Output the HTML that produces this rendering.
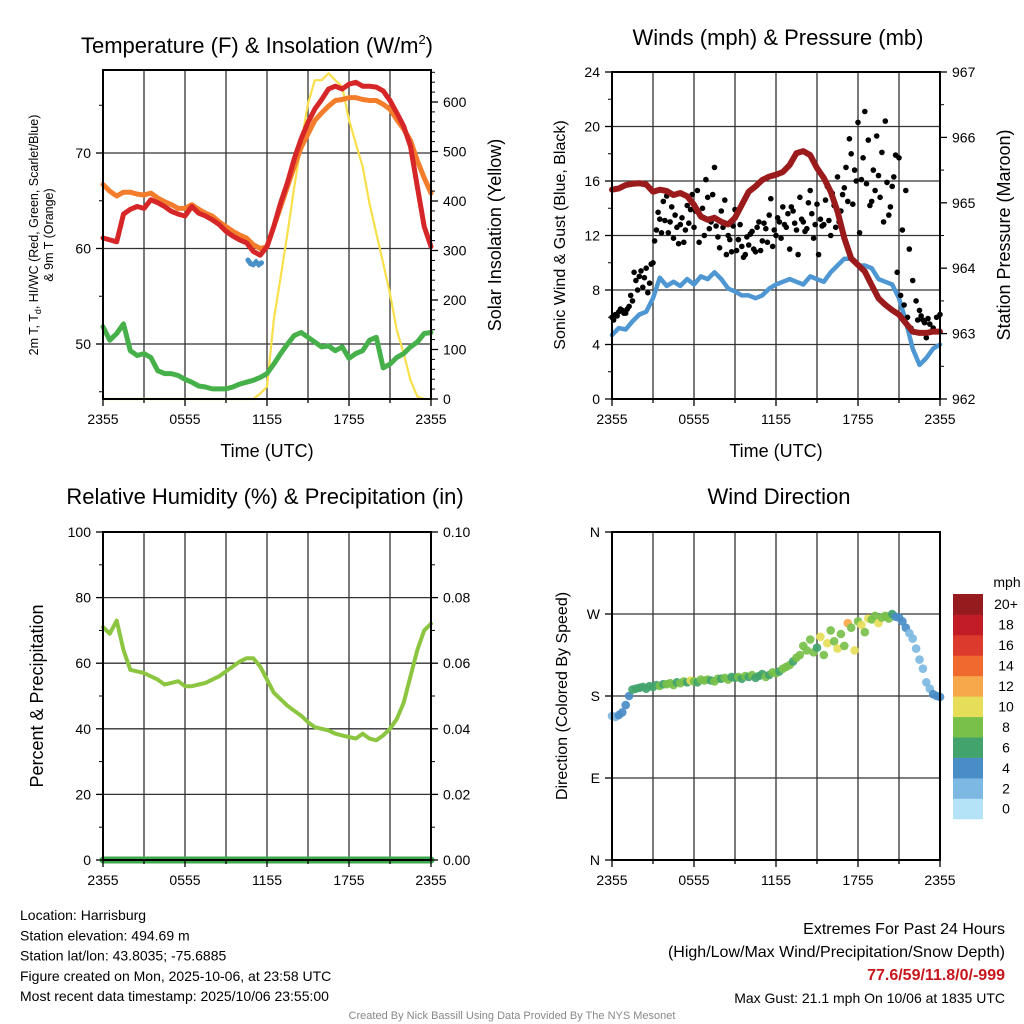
<!DOCTYPE html>
<html><head><meta charset="utf-8"><style>
html,body{margin:0;padding:0;background:#fff;}
svg{display:block;font-family:"Liberation Sans",sans-serif;}
</style></head><body>
<svg id="fig" width="1024" height="1024" viewBox="0 0 1024 1024" xmlns="http://www.w3.org/2000/svg">
<g id="static"></g>
</svg>
<script>
// ---------- data (half-hourly, hour 0 = 2355 UTC) ----------
const xTickLabels = ["2355","0555","1155","1755","2355"];
const temp2m = [61.1,60.9,60.7,63.6,64.1,64.4,64.2,65.1,64.8,64.4,63.9,63.6,63.4,64.4,63.7,63.4,63.0,62.5,61.8,61.3,60.9,60.6,59.7,59.3,60.2,62.3,64.8,66.9,69.4,71.5,73.2,74.6,75.6,76.7,77.0,76.7,77.2,77.4,77.0,77.0,76.9,76.5,75.5,74.2,72.8,70.7,66.5,62.3,60.2];
const temp9m = [66.7,66.0,65.5,65.9,65.9,65.7,65.6,65.8,65.3,64.9,64.6,64.2,64.2,64.6,64.1,63.7,63.4,62.8,62.3,61.8,61.4,61.1,60.4,60.0,60.2,62.3,64.4,66.5,68.6,70.6,72.0,73.4,74.2,74.9,75.5,75.6,75.8,75.8,75.6,75.5,75.5,75.1,74.6,73.5,72.5,71.3,69.2,67.4,65.8];
const dewpoint = [51.8,50.4,51.1,52.1,49.3,48.8,49.0,48.6,47.2,46.9,46.9,46.7,46.3,46.0,45.6,45.5,45.3,45.3,45.3,45.5,45.8,46.0,46.2,46.5,46.9,47.9,49.0,50.0,50.9,51.2,50.7,50.2,49.7,49.8,49.3,49.7,48.5,49.0,49.3,50.4,50.7,47.5,47.9,48.6,49.0,49.7,50.2,51.1,51.2];
const windChillHours = [10.6,10.8,11.0,11.2,11.4,11.6];
const windChillVals = [58.8,58.4,58.3,58.6,58.3,58.5];
const insolation = [0,0,0,0,0,0,0,0,0,0,0,0,0,0,0,0,0,0,0,0,0,0,0,11,25,160,247,335,429,516,597,644,644,658,644,631,564,516,469,395,335,274,213,139,92,38,5,0,0];
const sonicWind = [4.7,5.2,5.1,5.7,6.2,6.4,7.4,8.9,8.3,8.6,8.3,8.8,8.4,9.0,8.8,9.3,8.8,8.1,7.9,7.6,7.6,7.4,7.6,8.1,8.4,8.6,8.8,8.6,8.4,9.0,8.8,8.6,9.3,9.8,10.3,10.3,9.8,9.8,9.6,8.8,8.6,8.4,7.4,5.7,3.7,2.5,3.0,3.7,4.0];
const pressure = [965.20,965.22,965.27,965.29,965.30,965.28,965.17,965.20,965.18,965.12,965.15,965.10,964.97,964.79,964.74,964.77,964.71,964.67,964.77,964.97,965.17,965.25,965.35,965.40,965.43,965.47,965.58,965.76,965.79,965.73,965.53,965.38,965.17,964.87,964.46,964.15,964.05,963.95,963.74,963.54,963.44,963.36,963.29,963.16,963.03,963.01,963.01,963.03,963.03];
const relHumidity = [71,69,73,64,58,57.5,57,56,55,53.5,54,54.5,53,53,53.5,54,55,56,57.5,59,60.5,61.5,61.5,59,55,51,49,47,45.5,44,42,40.5,40,39.5,38.5,38,37.5,37,38.5,37,36.5,38,40,43,48,56,64,70,72];
const precip = [0,0,0,0,0,0,0,0,0,0,0,0,0,0,0,0,0,0,0,0,0,0,0,0,0,0,0,0,0,0,0,0,0,0,0,0,0,0,0,0,0,0,0,0,0,0,0,0,0];
// quarter-hourly
const gusts = [6.0,6.2,6.4,6.5, 6.3,6.8,7.2,8.7, 9.0,8.2,9.6,8.5, 10.0,12.4,13.2,14.5, 14.9,13.0,11.8,12.6, 12.8,11.5,14.2,13.9, 12.6,15.3,13.4,12.0, 14.8,13.0,17.0,11.9, 13.8,14.6,12.0,10.8, 13.9,11.7,11.2,10.6, 11.3,12.3,10.8,13.0, 11.6,12.5,13.5,11.2, 12.0,13.0,14.1,12.6, 11.0,13.8,12.4,14.8, 13.0,12.5,15.3,11.8, 14.3,13.2,12.8,15.6, 12.0,14.2,16.3,13.8, 15.5,14.5,18.0,16.8, 20.3,16.1,21.1,19.0, 14.5,15.3,16.4,18.1, 20.4,13.5,15.6,17.9, 17.7,12.4,15.3,11.0, 8.7,7.2,6.5,5.8, 4.5,5.5,5.2,6.0, 6.2];
const gustsB = [5.8,6.1,6.6,6.3, 6.6,7.6,9.3,8.0, 9.4,8.9,7.8,9.9, 11.6,13.7,12.2,13.1, 12.2,14.1,13.5,11.4, 13.3,12.4,12.9,15.0, 13.8,11.5,14.0,16.1, 12.5,15.0,12.7,11.1, 12.6,10.6,11.7,12.7, 10.9,12.8,10.4,11.9, 12.1,11.0,12.6,10.9, 12.9,11.5,14.7,12.4, 13.3,11.8,12.8,13.6, 14.1,12.9,10.6,13.2, 12.3,14.4,13.6,12.8, 10.6,12.7,14.6,13.1, 15.1,12.6,13.0,15.0, 17.0,19.1,14.3,16.0, 12.2,17.7,15.8,14.2, 16.8,19.3,14.8,13.0, 15.9,14.1,16.3,9.3, 7.6,6.9,6.0,5.2, 4.9,5.8,6.1,5.6, 5.9];
const windDir = [158,157,159,162, 170,180,187,188, 189,190,188,191, 190,192,191,193, 193,194,192,195, 194,196,195,197, 196,195,198,197, 198,197,196,199, 199,200,198,201, 200,201,199,202, 201,203,200,202, 204,201,203,206, 205,207,210,212, 214,218,222,225, 235,230,242,228, 233,245,225,238, 252,240,232,248, 235,260,255,230, 262,258,250,265, 264,268,260,266, 268,265,270,267, 266,262,255,249, 243,232,220,210, 195,188,182,180, 179];
const windSpd = [3.8,3.9,4.0,4.1, 4.2,5.0,6.2,6.5, 6.4,7.0,6.8,7.2, 7.5,7.8,8.5,7.6, 8.2,9.6,8.0,7.9, 8.0,8.4,7.8,10.2, 8.6,7.9,8.3,8.1, 8.8,7.9,8.0,8.4, 7.8,8.1,8.3,7.5, 7.9,8.2,7.8,8.0, 7.7,8.0,7.6,7.9, 7.8,8.1,7.4,8.3, 8.0,7.9,8.2,9.3, 8.0,7.6,8.4,9.8, 8.3,9.5,8.1,9.7, 7.5,10.3,8.2,10.1, 9.6,8.3,10.4,8.0, 9.8,12.8,8.5,11.8, 8.2,10.5,9.8,10.6, 8.1,8.4,10.2,9.9, 8.0,9.6,7.5,5.0, 4.0,4.3,4.0,3.8, 3.2,2.8,2.4,2.5, 3.5,3.8,4.0,4.1, 4.0];
const speedLabels = ["0","2","4","6","8","10","12","14","16","18","20+"];
const speedColors = ["#b4e2f6","#7db8e2","#4a8cc5","#42a46c","#78c04a","#e6de58","#f7a84a","#f0692e","#dd3a2e","#c21d27","#951b1e"];

// ---------- helpers ----------
const NS = "http://www.w3.org/2000/svg";
const svg = document.getElementById("fig");
function mk(tag, attrs, parent){ const e=document.createElementNS(NS,tag); for(const k in attrs) e.setAttribute(k,attrs[k]); (parent||svg).appendChild(e); return e; }
function txt(s, x, y, size, anchor, parent, extra){ const t=mk("text",Object.assign({x:x,y:y,"font-size":size,"text-anchor":anchor||"middle",fill:"#000"},extra||{}),parent); t.textContent=s; return t; }
function xScale(p){ return h => p.x0 + h/24*(p.x1-p.x0); }
function linScale(d0,d1,r0,r1){ return v => r0 + (v-d0)/(d1-d0)*(r1-r0); }

function panelFrame(p, name){
  const g = mk("g",{});
  
  
  return g;
}
function grid(g,p,xs,yVals,yS){
  for(let h=3;h<24;h+=3){ const x=xs(h); const l=mk("line",{x1:x,x2:x,y1:p.y0,y2:p.y1,stroke:"#333","stroke-width":1.3},g);   }
  yVals.forEach(v=>{ const y=yS(v); const l=mk("line",{x1:p.x0,x2:p.x1,y1:y,y2:y,stroke:"#333","stroke-width":1.3},g);   });
}
function border(g,p){ const r=mk("rect",{x:p.x0,y:p.y0,width:p.x1-p.x0,height:p.y1-p.y0,fill:"none",stroke:"#000","stroke-width":2},g);   }
function xAxis(g,p,xs,title){
  for(let h=0;h<=24;h+=3){ const x=xs(h); const len=(h%6===0)?7:4; mk("line",{x1:x,x2:x,y1:p.y1,y2:p.y1+len,stroke:"#000","stroke-width":1.3},g); }
  xTickLabels.forEach((s,i)=>{ const t=txt(s,xs(i*6),p.y1+25,14,"middle",g);   });
  if(title){ const t=txt(title,(p.x0+p.x1)/2,p.y1+58,18,"middle",g);   }
}
function yTicks(g,p,side,vals,yS,labelFn,minor){
  const x = side==="l"?p.x0:p.x1, dir = side==="l"?-1:1;
  (minor||[]).forEach(v=>{ const y=yS(v); mk("line",{x1:x,x2:x+dir*4,y1:y,y2:y,stroke:"#000","stroke-width":1},g); });
  vals.forEach(v=>{ const y=yS(v); mk("line",{x1:x,x2:x+dir*7,y1:y,y2:y,stroke:"#000","stroke-width":1.3},g);
    const t=txt(labelFn(v), x+dir*12, y+5, 14, side==="l"?"end":"start", g);   });
}
function series(g,vals,xs,yS,step,color,width,name){
  const d = vals.map((v,i)=>(i?"L":"M")+xs(i*step).toFixed(1)+","+yS(v).toFixed(1)).join(" ");
  const pth = mk("path",{d:d,fill:"none",stroke:color,"stroke-width":width,"stroke-linejoin":"round","stroke-linecap":"round"},g);
  
  
  return pth;
}
function rotText(g,s,x,y,size,name){ const t=txt(s,0,0,size,"middle",g,{transform:`translate(${x},${y}) rotate(-90)`});   return t; }

// ---------- Panel 1: temperature ----------
(function(){
  const p={x0:103,x1:431,y0:70,y1:399};
  const g=panelFrame(p,'temperature-panel');
  const xs=xScale(p);
  const yT=linScale(70,60,153,248.5);
  const yW=linScale(0,600,399,102);
  grid(g,p,xs,[50,60,70],yT);
  series(g,insolation,xs,yW,0.5,"#f9df4a",2.2,'insolation-line');
  series(g,dewpoint,xs,yT,0.5,"#46b04a",5,'dewpoint-line');
  series(g,temp9m,xs,yT,0.5,"#f47d2b",5,'temp-9m-line');
  series(g,temp2m,xs,yT,0.5,"#d62627",5,'temp-2m-line');
  const wc = windChillVals.map((v,i)=>(i?"L":"M")+xs(windChillHours[i]).toFixed(1)+","+yT(v).toFixed(1)).join(" ");
  const wcp=mk("path",{d:wc,fill:"none",stroke:"#4a90c8","stroke-width":5,"stroke-linecap":"round"},g);
   
  border(g,p);
  xAxis(g,p,xs,"Time (UTC)");
  yTicks(g,p,"l",[50,60,70],yT,v=>String(v),[45,55,65,75]);
  const minorW=[]; for(let w=0;w<=660;w+=20) if(w%100) minorW.push(w);
  yTicks(g,p,"r",[0,100,200,300,400,500,600],yW,v=>String(v),minorW);
  const t=txt("Temperature (F) & Insolation (W/m",257,53,22,"middle",g);  
  const ts=mk("tspan",{"font-size":13,dy:-9},t); ts.textContent="2"; const ts2=mk("tspan",{dy:9},t); ts2.textContent=")";
  const l1=txt("",0,0,12.5,"middle",g,{transform:"translate(38,235) rotate(-90)"});  
  l1.textContent="2m T, T";
  const sub=mk("tspan",{"font-size":9,dy:3},l1); sub.textContent="d"; const rest=mk("tspan",{dy:-3},l1); rest.textContent=", HI/WC (Red, Green, Scarlet/Blue)";
  const l2=txt("& 9m T (Orange)",0,0,12.5,"middle",g,{transform:"translate(53,235) rotate(-90)"});  
  rotText(g,"Solar Insolation (Yellow)",501,235,18,'insolation-y-axis-title');
})();

// ---------- Panel 2: winds & pressure ----------
(function(){
  const p={x0:612,x1:940,y0:72,y1:399};
  const g=panelFrame(p,'winds-pressure-panel');
  const xs=xScale(p);
  const yS=linScale(0,24,399,72);
  const yP=linScale(962,967,399,72);
  grid(g,p,xs,[4,8,12,16,20],yS);
  series(g,sonicWind,xs,yS,0.5,"#4e97d3",4.5,'sonic-wind-line');
  [gusts,gustsB].forEach((arr,k)=>arr.forEach((v,i)=>{
    const c=mk("circle",{cx:xs(i*0.25+(k?0.12:0)).toFixed(1),cy:yS(v).toFixed(1),r:2.8,fill:"#000"},g);
    
    
  }));
  series(g,pressure,xs,yP,0.5,"#9b1a1c",6,'pressure-line');
  border(g,p);
  xAxis(g,p,xs,"Time (UTC)");
  yTicks(g,p,"l",[0,4,8,12,16,20,24],yS,v=>String(v),[2,6,10,14,18,22]);
  yTicks(g,p,"r",[962,963,964,965,966,967],yP,v=>String(v),[962.5,963.5,964.5,965.5,966.5]);
  const t=txt("Winds (mph) & Pressure (mb)",778,45,22,"middle",g);  
  rotText(g,"Sonic Wind & Gust (Blue, Black)",565,235,16,'wind-y-axis-title');
  rotText(g,"Station Pressure (Maroon)",1010,235,18,'pressure-y-axis-title');
})();

// ---------- Panel 3: RH & precip ----------
(function(){
  const p={x0:103,x1:431,y0:532,y1:860};
  const g=panelFrame(p,'humidity-precip-panel');
  const xs=xScale(p);
  const yR=linScale(0,100,860,532);
  const yPr=linScale(0,0.1,860,532);
  grid(g,p,xs,[20,40,60,80],yR);
  series(g,relHumidity,xs,yR,0.5,"#8cc540",4,'humidity-line');
  series(g,precip,xs,yPr,0.5,"#3ea74c",7,'precip-line');
  border(g,p);
  xAxis(g,p,xs,null);
  yTicks(g,p,"l",[0,20,40,60,80,100],yR,v=>String(v),[10,30,50,70,90]);
  yTicks(g,p,"r",[0,0.02,0.04,0.06,0.08,0.1],yPr,v=>v.toFixed(2),[0.01,0.03,0.05,0.07,0.09]);
  const t=txt("Relative Humidity (%) & Precipitation (in)",265,504,22,"middle",g);  
  rotText(g,"Percent & Precipitation",43,696,18,'humidity-y-axis-title');
})();

// ---------- Panel 4: wind direction ----------
(function(){
  const p={x0:612,x1:940,y0:532,y1:860};
  const g=panelFrame(p,'wind-direction-panel');
  const xs=xScale(p);
  const yD=linScale(0,360,860,532);
  grid(g,p,xs,[90,180,270],yD);
  windDir.forEach((v,i)=>{
    const idx=Math.min(10,Math.floor(windSpd[i]/2));
    const c=mk("circle",{cx:xs(i*0.25).toFixed(1),cy:yD(v).toFixed(1),r:4.3,fill:speedColors[idx],"fill-opacity":0.92},g);
    
    
  });
  border(g,p);
  xAxis(g,p,xs,null);
  const dirLabels=["N","E","S","W","N"];
  yTicks(g,p,"l",[0,90,180,270,360],yD,v=>dirLabels[v/90],[]);
  const t=txt("Wind Direction",779,504,22,"middle",g);  
  rotText(g,"Direction (Colored By Speed)",567,696,16,'direction-y-axis-title');
  // colorbar
  const cb=mk("g",{},g);
  
  
  const top=594, bh=20.45;
  speedColors.forEach((c,i)=>{
    const y=top+(10-i)*bh;
    const r=mk("rect",{x:953,y:y.toFixed(1),width:30,height:(bh+0.3).toFixed(1),fill:c},cb);
    
    
    const l=txt(speedLabels[i],1006,y+bh/2+5,14,"middle",cb);
    
    
  });
  const u=txt("mph",1007,587,14,"middle",cb);  
})();

// ---------- footer text ----------
(function(){
  const g=mk("g",{});
  
  
  const lines=["Location: Harrisburg","Station elevation: 494.69 m","Station lat/lon: 43.8035; -75.6885","Figure created on Mon, 2025-10-06, at 23:58 UTC","Most recent data timestamp: 2025/10/06 23:55:00"];
  lines.forEach((s,i)=>{ const t=txt(s,20,920+i*20.3,14,"start",g);   });
  const g2=mk("g",{});
  
  
  let t=txt("Extremes For Past 24 Hours",1005,934,16,"end",g2);  
  t=txt("(High/Low/Max Wind/Precipitation/Snow Depth)",1005,957,16,"end",g2);  
  t=txt("77.6/59/11.8/0/-999",1005,980,16,"end",g2,{fill:"#c8161d","font-weight":"bold"});  
  t=txt("Max Gust: 21.1 mph On 10/06 at 1835 UTC",1005,1003,14,"end",g2);  
  t=txt("Created By Nick Bassill Using Data Provided By The NYS Mesonet",512,1019,11,"middle",svg,{fill:"#888"});  
})();
</script>
</body></html>
